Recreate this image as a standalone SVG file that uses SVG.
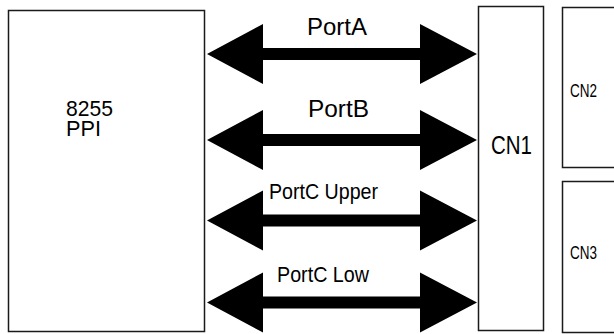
<svg xmlns="http://www.w3.org/2000/svg" width="614" height="334" viewBox="0 0 614 334">
<style>
.box{fill:#fff;stroke:#1a1a1a;stroke-width:1.5}
.t{font-family:'Liberation Sans Narrow','Liberation Sans',Arial,sans-serif;fill:#000}
.arr{fill:#000}
</style>
<defs>
<polygon id="dbl" points="207,0 263,-30 263,-6 420,-6 420,-30 477,0 420,30 420,6 263,6 263,30"/>
</defs>
<rect width="614" height="334" fill="#fff"/>
<g id="ppi">
<rect class="box" x="8.5" y="10.5" width="196" height="321"/>
<text class="t" font-size="22"><tspan x="66" y="116" textLength="47" lengthAdjust="spacingAndGlyphs">8255</tspan><tspan x="66" y="136" textLength="35" lengthAdjust="spacingAndGlyphs">PPI</tspan></text>
</g>
<g id="cn1">
<rect class="box" x="478.5" y="6.5" width="65" height="324"/>
<text class="t" x="491" y="154" font-size="26" textLength="41" lengthAdjust="spacingAndGlyphs">CN1</text>
</g>
<g id="cn2">
<rect class="box" x="562.5" y="7.5" width="60" height="160"/>
<text class="t" x="570" y="97" font-size="19" textLength="27" lengthAdjust="spacingAndGlyphs">CN2</text>
</g>
<g id="cn3">
<rect class="box" x="562.5" y="181.5" width="60" height="151"/>
<text class="t" x="570" y="259" font-size="19" textLength="27" lengthAdjust="spacingAndGlyphs">CN3</text>
</g>
<g id="connectors">
<use href="#dbl" class="arr" transform="translate(0,54)"/>
<use href="#dbl" class="arr" transform="translate(0,140)"/>
<use href="#dbl" class="arr" transform="translate(0,220.5)"/>
<use href="#dbl" class="arr" transform="translate(0,302.5)"/>
<text class="t" x="307" y="35" font-size="24" textLength="60" lengthAdjust="spacingAndGlyphs">PortA</text>
<text class="t" x="308" y="117" font-size="24" textLength="61" lengthAdjust="spacingAndGlyphs">PortB</text>
<text class="t" x="269" y="199" font-size="22" textLength="109" lengthAdjust="spacingAndGlyphs">PortC Upper</text>
<text class="t" x="277" y="282" font-size="22" textLength="92" lengthAdjust="spacingAndGlyphs">PortC Low</text>
</g>
</svg>
